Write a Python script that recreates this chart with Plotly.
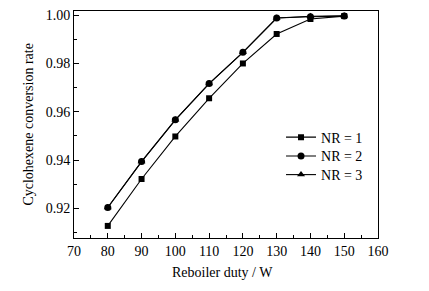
import plotly.graph_objects as go

duty = [80, 90, 100, 110, 120, 130, 140, 150]
nr1 = [0.9128, 0.9322, 0.9498, 0.9656, 0.9800, 0.9922, 0.9984, 0.9996]
nr2 = [0.9204, 0.9394, 0.9567, 0.9717, 0.9846, 0.9988, 0.9993, 0.9996]
nr3 = [0.9204, 0.9394, 0.9567, 0.9717, 0.9846, 0.9988, 0.9995, 0.9997]
names = ["NR = 1", "NR = 2", "NR = 3"]
symbols = ["square", "circle", "triangle-up"]
sizes = [6, 7, 7]
x_title = "Reboiler duty / W"
y_title = "Cyclohexene conversion rate"

legend_ids = ["legend", "legend2", "legend3"]
legend_y = [0.513, 0.430, 0.348]

fig = go.Figure()
for ys, nm, sym, sz, lg in zip([nr1, nr2, nr3], names, symbols, sizes, legend_ids):
    fig.add_trace(go.Scatter(
        x=duty, y=ys, name=nm, mode="lines+markers",
        line=dict(color="black", width=1.1),
        marker=dict(symbol=sym, size=sz, color="black"),
        legend=lg,
    ))

font = dict(family="Liberation Serif, Times New Roman, serif", size=14, color="black")
legend_common = dict(x=0.681, xanchor="left", yanchor="top",
                     bgcolor="rgba(0,0,0,0)", font=font, itemwidth=30)
fig.update_layout(
    width=429, height=291,
    margin=dict(l=74, r=51, t=8, b=53),
    paper_bgcolor="white", plot_bgcolor="white",
    font=font,
    showlegend=True,
    legend=dict(y=legend_y[0], **legend_common),
    legend2=dict(y=legend_y[1], **legend_common),
    legend3=dict(y=legend_y[2], **legend_common),
    annotations=[
        dict(text=y_title, xref="paper", yref="paper", x=-0.151, y=0.5,
             xanchor="center", yanchor="middle", textangle=-90,
             showarrow=False, font=font),
        dict(text=x_title, xref="paper", yref="paper", x=0.49, y=-0.151,
             xanchor="center", yanchor="middle",
             showarrow=False, font=font),
    ],
)
fig.update_xaxes(
    range=[70, 160], dtick=10, tick0=70,
    showline=True, linecolor="black", linewidth=1, mirror=True,
    ticks="inside", ticklen=5, tickcolor="black",
    minor=dict(dtick=5, ticks="inside", ticklen=3, tickcolor="black", showgrid=False),
    showgrid=False, zeroline=False,
)
fig.update_yaxes(
    range=[0.9078, 1.0017], dtick=0.02, tick0=0.90, tickformat=".2f",
    showline=True, linecolor="black", linewidth=1, mirror=True,
    ticks="inside", ticklen=5, tickcolor="black",
    minor=dict(dtick=0.01, ticks="inside", ticklen=3, tickcolor="black", showgrid=False),
    showgrid=False, zeroline=False,
)
fig.write_html("out.html", config={"displayModeBar": False},
               post_script="document.body.style.margin='0';")
